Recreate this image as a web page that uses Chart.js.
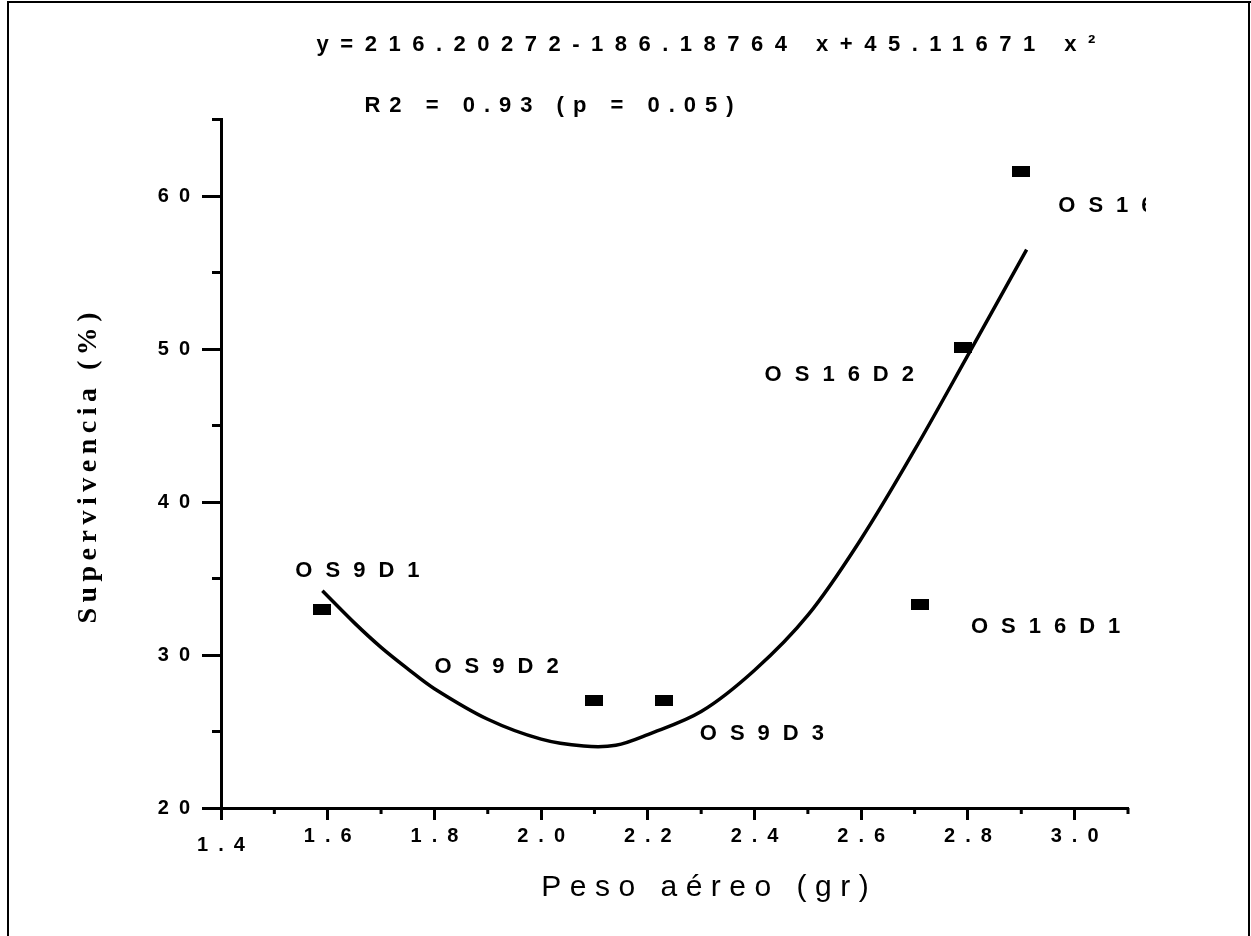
<!DOCTYPE html>
<html>
<head>
<meta charset="utf-8">
<script src="https://cdn.jsdelivr.net/npm/chart.js@4.4.1/dist/chart.umd.min.js"></script>
<style>
  html, body { margin: 0; padding: 0; background: #fff; }
  #wrap { width: 1251px; height: 936px; }
</style>
</head>
<body>
<div id="wrap"><canvas id="chart" width="1251" height="936"></canvas></div>
<script>
// observed points
const pointNames = ['OS9D1', 'OS9D2', 'OS9D3', 'OS16D1', 'OS16D2', 'OS16D3'];
const pesoAereo = [1.59, 2.10, 2.23, 2.71, 2.79, 2.90];
const supervivencia = [33.0, 27.0, 27.0, 33.3, 50.1, 61.6];

// fitted curve
const curveX = [1.59, 1.65, 1.70, 1.75, 1.80, 1.90, 2.00, 2.08, 2.14, 2.20, 2.30, 2.40, 2.50, 2.60, 2.70, 2.80, 2.91];
const curveY = [34.2, 32.1, 30.5, 29.1, 27.8, 25.8, 24.5, 24.05, 24.1, 24.8, 26.3, 29.0, 32.6, 37.6, 43.4, 49.6, 56.5];

const xTicks = [1.4, 1.6, 1.8, 2.0, 2.2, 2.4, 2.6, 2.8, 3.0];
const xMinorTicks = [1.5, 1.7, 1.9, 2.1, 2.3, 2.5, 2.7, 2.9, 3.1];
const yTicks = [20, 30, 40, 50, 60];
const yMinorTicks = [25, 35, 45, 55, 65];

const equationText = 'y=216.20272-186.18764 x+45.11671 x²';
const r2Text = 'R2 = 0.93 (p = 0.05)';
const xTitle = 'Peso aéreo (gr)';
const yTitle = 'Supervivencia (%)';

const SANS = "'Liberation Sans', Arial, sans-serif";
const SERIF = "'Liberation Serif', 'Times New Roman', serif";

// label placement next to each point, in pixels
const labelOffsets = [[-27, -38], [-160, -34], [36, 33], [51, 22], [-198, 27], [37, 34]];

const marker = document.createElement('canvas');
marker.width = 18;
marker.height = 11;
const mctx = marker.getContext('2d');
mctx.fillStyle = '#000';
mctx.fillRect(0, 0, 18, 11);

function spacedText(ctx, text, x, y, font, spacing, align) {
    ctx.save();
    ctx.font = font;
    ctx.letterSpacing = spacing + 'px';
    ctx.textAlign = align || 'left';
    ctx.textBaseline = 'middle';
    ctx.fillStyle = '#000';
    if (align === 'center') x += spacing / 2;
    ctx.fillText(text, x, y);
    ctx.restore();
}

const annotate = {
    id: 'annotate',
    beforeDraw(chart) {
        chart.ctx.letterSpacing = '10px';
    },
    beforeDatasetsDraw(chart) {
        chart.ctx.letterSpacing = '0px';
    },
    afterDraw(chart) {
        const ctx = chart.ctx;
        const xs = chart.scales.x;
        const ys = chart.scales.y;
        const area = chart.chartArea;

        // minor ticks
        ctx.save();
        ctx.strokeStyle = '#000';
        ctx.lineWidth = 3;
        ctx.beginPath();
        yMinorTicks.forEach(v => {
            const py = ys.getPixelForValue(v);
            ctx.moveTo(area.left, py);
            ctx.lineTo(area.left - 9, py);
        });
        xMinorTicks.forEach(v => {
            const px = xs.getPixelForValue(v);
            ctx.moveTo(px, area.bottom);
            ctx.lineTo(px, area.bottom + 6);
        });
        ctx.stroke();

        // frame
        ctx.lineWidth = 2;
        ctx.beginPath();
        ctx.moveTo(8, 936);
        ctx.lineTo(8, 2);
        ctx.lineTo(1251, 2);
        ctx.moveTo(1249, 2);
        ctx.lineTo(1249, 936);
        ctx.stroke();
        ctx.restore();

        // point labels
        ctx.save();
        ctx.beginPath();
        ctx.rect(0, 0, 1146, 936);
        ctx.clip();
        pointNames.forEach((name, i) => {
            const px = xs.getPixelForValue(pesoAereo[i]);
            const py = ys.getPixelForValue(supervivencia[i]);
            spacedText(ctx, name, px + labelOffsets[i][0], py + labelOffsets[i][1],
                'bold 22px ' + SANS, 13, 'left');
        });
        ctx.restore();

        // equation and fit
        spacedText(ctx, equationText, 706, 45, 'bold 22px ' + SANS, 11.5, 'center');
        spacedText(ctx, r2Text, 549, 106, 'bold 22px ' + SANS, 9, 'center');

        // axis titles
        spacedText(ctx, xTitle, 705, 888, '30px ' + SANS, 8.5, 'center');
        ctx.save();
        ctx.translate(89, 468);
        ctx.rotate(-Math.PI / 2);
        spacedText(ctx, yTitle, 0, 0, 'bold 28px ' + SERIF, 5.5, 'center');
        ctx.restore();
    }
};

new Chart(document.getElementById('chart'), {
    type: 'scatter',
    data: {
        datasets: [
            {
                label: 'Observado',
                data: pesoAereo.map((x, i) => ({ x: x, y: supervivencia[i] })),
                pointStyle: marker,
                pointRadius: 6,
                pointHoverRadius: 6,
                showLine: false
            },
            {
                label: 'Ajuste',
                data: curveX.map((x, i) => ({ x: x, y: curveY[i] })),
                showLine: true,
                borderColor: '#000',
                borderWidth: 3.5,
                pointRadius: 0,
                tension: 0.35,
                fill: false
            }
        ]
    },
    options: {
        responsive: false,
        animation: false,
        layout: { padding: { left: 0, right: 123, top: 119.5, bottom: 0 } },
        plugins: {
            legend: { display: false },
            tooltip: { enabled: false }
        },
        scales: {
            x: {
                type: 'linear',
                min: 1.4,
                max: 3.1,
                afterBuildTicks: s => { s.ticks = xTicks.map(v => ({ value: v })); },
                afterFit: s => { s.height = 128; },
                ticks: {
                    autoSkip: false,
                    maxRotation: 0,
                    color: '#000',
                    padding: 4,
                    labelOffset: 5,
                    callback: v => Number(v).toFixed(1),
                    font: ctx => ({
                        family: SANS,
                        size: 20,
                        weight: 'bold',
                        lineHeight: ctx.tick && ctx.tick.value === 1.4 ? 2.1 : 1.2
                    })
                },
                grid: { drawOnChartArea: false, tickLength: 12, tickWidth: 3, tickColor: '#000' },
                border: { color: '#000', width: 3 }
            },
            y: {
                type: 'linear',
                min: 20,
                max: 65,
                afterBuildTicks: s => { s.ticks = yTicks.map(v => ({ value: v })); },
                afterFit: s => { s.width = 221; },
                ticks: {
                    color: '#000',
                    padding: 2,
                    callback: v => String(v),
                    font: { family: SANS, size: 20, weight: 'bold' }
                },
                grid: { drawOnChartArea: false, tickLength: 19, tickWidth: 3, tickColor: '#000' },
                border: { color: '#000', width: 3 }
            }
        }
    },
    plugins: [annotate]
});
</script>
</body>
</html>
